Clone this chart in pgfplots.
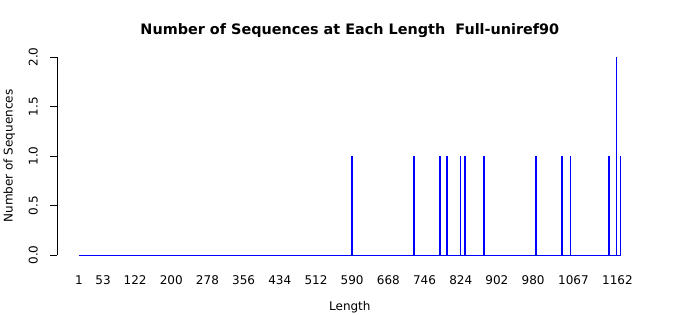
\documentclass[border=0pt]{standalone}
\usepackage{fontspec}
\setmainfont{DejaVu Sans}
\usepackage{pgfplots}
\pgfplotsset{compat=1.18}
\definecolor{rblue}{RGB}{0,0,255}
\begin{document}
\begin{tikzpicture}[x=1pt,y=1pt]
\useasboundingbox (0,0) rectangle (700,315);
\begin{axis}[
  at={(57.3pt,52pt)}, anchor=south west,
  scale only axis, width=585.1pt, height=214pt,
  xmin=-45.7, xmax=1215.7, ymin=-0.08, ymax=2.08,
  font=\fontsize{12}{14}\selectfont,
  /pgf/number format/assume math mode=true,
  axis line style={draw=none},
  tick align=outside,
  major tick length=7pt,
  xtick pos=bottom, ytick pos=left,
  xtick={1,53,122,200,278,356,434,512,590,668,746,824,902,980,1067,1162},
  xticklabels={1,53,122,200,278,356,434,512,590,668,746,824,902,980,1067,1162},
  xtick style={draw=none},
  ytick={0,0.5,1,1.5,2},
  yticklabels={0.0,0.5,1.0,1.5,2.0},
  ytick style={black, line width=0.8pt},
  yticklabel style={rotate=90, anchor=south, yshift=9pt},
  xticklabel style={anchor=center, yshift=-10pt},
  title={Number of Sequences at Each Length\ \ Full-uniref90},
  title style={font=\bfseries\fontsize{14.4}{16}\selectfont, at={(axis description cs:0.5,1.056)}, anchor=center},
  xlabel={Length},
  xlabel style={at={(axis description cs:0.5,-0.2056)}, anchor=center},
  ylabel={Number of Sequences},
  ylabel style={at={(axis description cs:-0.082,0.5)}, anchor=center, rotate=0},
  clip=false,
]
\draw[black, line width=0.8pt] (axis cs:-45.7,0) -- (axis cs:-45.7,2);
\addplot[rblue, line width=1pt] coordinates {(1,0) (1169,0)};
\addplot[rblue, ycomb, line width=1.4pt, mark=none] coordinates {
(590,1) (723,1) (779,1) (794,1) (823,1) (833,1) (874,1)
(986,1) (1042,1) (1061,1) (1144,1) (1160,2) (1169,1)};
\end{axis}
\end{tikzpicture}
\end{document}
